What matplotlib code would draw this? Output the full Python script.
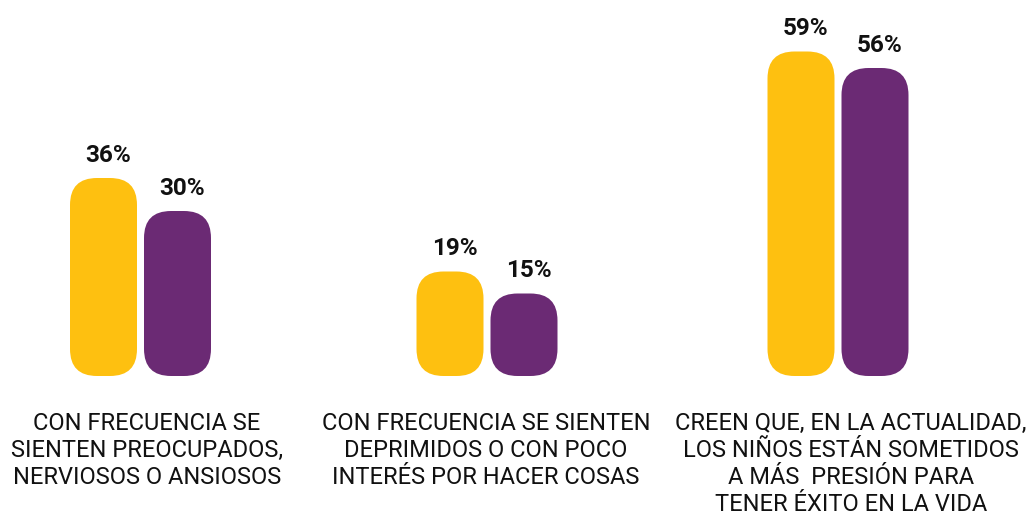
import matplotlib
matplotlib.use("Agg")
import matplotlib.pyplot as plt
from matplotlib.patches import FancyBboxPatch

categories = [
    "CON FRECUENCIA SE\nSIENTEN PREOCUPADOS,\nNERVIOSOS O ANSIOSOS",
    "CON FRECUENCIA SE SIENTEN\nDEPRIMIDOS O CON POCO\nINTERÉS POR HACER COSAS",
    "CREEN QUE, EN LA ACTUALIDAD,\nLOS NIÑOS ESTÁN SOMETIDOS\nA MÁS  PRESIÓN PARA\nTENER ÉXITO EN LA VIDA",
]
series_a = [36, 19, 59]
series_b = [30, 15, 56]
value_labels_a = ["36%", "19%", "59%"]
value_labels_b = ["30%", "15%", "56%"]

YELLOW = "#FEC010"
PURPLE = "#6B2A74"

W, H = 1032, 515
fig = plt.figure(figsize=(W / 100, H / 100), dpi=100)
ax = fig.add_axes([0, 0, 1, 1])
PX_PER_UNIT = 5.5
BASE_PX = 376
ax.set_xlim(0, W)
ax.set_ylim(-(H - BASE_PX) / PX_PER_UNIT, BASE_PX / PX_PER_UNIT)
ax.axis("off")

group_centers = [140.5, 487, 838]
label_centers = [147, 486, 851]
bar_w = 67
offset = 37
rounding = 27
aspect = 1 / PX_PER_UNIT

def rbar(xc, val, color):
    p = FancyBboxPatch((xc - bar_w / 2, 0), bar_w, val,
                       boxstyle=f"round,pad=0,rounding_size={rounding}",
                       mutation_aspect=aspect, fc=color, ec="none")
    ax.add_patch(p)

for i, gc in enumerate(group_centers):
    xa = gc - offset
    xb = gc + offset
    rbar(xa, series_a[i], YELLOW)
    rbar(xb, series_b[i], PURPLE)
    for x, v, t in ((xa, series_a[i], value_labels_a[i]), (xb, series_b[i], value_labels_b[i])):
        ax.annotate(t, (x, v), xytext=(5, 16), textcoords="offset pixels",
                    ha="center", va="baseline", fontsize=17.5, fontweight="bold",
                    family="Roboto", color="#111111")
    ax.text(label_centers[i], -(412 - BASE_PX) / PX_PER_UNIT, categories[i],
            ha="center", va="top", fontsize=17, family="Roboto",
            color="#111111", linespacing=1.23)

fig.savefig("out.png", dpi=100)
